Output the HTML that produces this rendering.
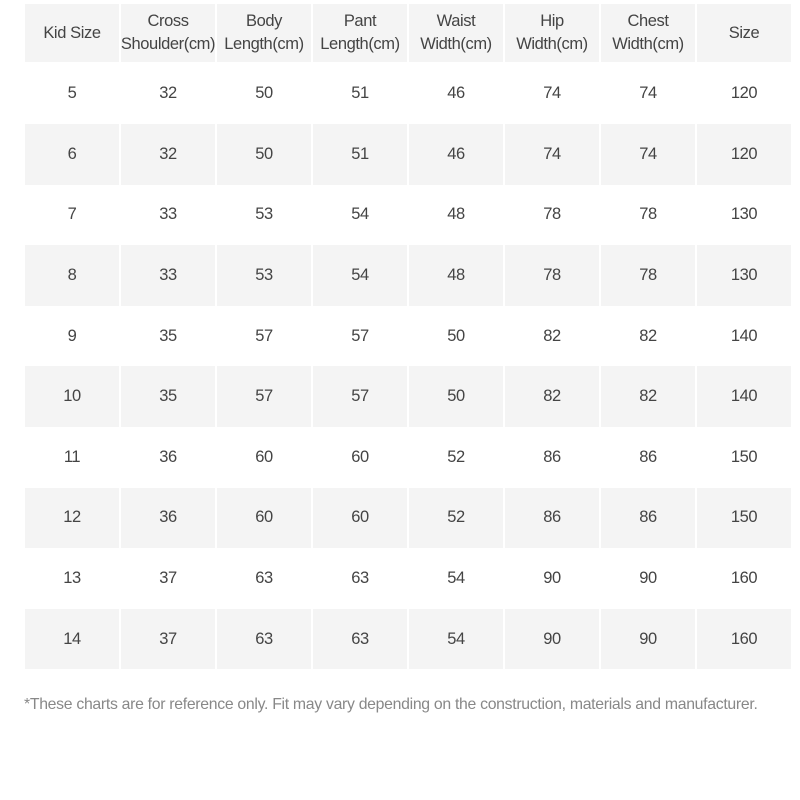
<!DOCTYPE html>
<html><head><style>
body{margin:0;width:800px;height:800px;background:#fff;font-family:"Liberation Sans",sans-serif;color:#444;overflow:hidden}
.t{position:absolute;left:25px;top:4px;}
.r{display:flex;height:60.6px}
.c{width:94px;margin-right:2px;display:flex;align-items:center;justify-content:center;text-align:center;font-size:16.5px;line-height:23px;letter-spacing:-0.4px}
.g .c{background:#f4f4f4}
.f{position:absolute;left:24px;top:696px;font-size:15.8px;color:#888;letter-spacing:-0.3px;white-space:nowrap}
</style></head><body>
<div class="t">
<div class="r g" style="height:58px"><div class="c" style="align-items:center">Kid Size</div><div class="c">Cross<br>Shoulder(cm)</div><div class="c">Body<br>Length(cm)</div><div class="c">Pant<br>Length(cm)</div><div class="c">Waist<br>Width(cm)</div><div class="c">Hip<br>Width(cm)</div><div class="c">Chest<br>Width(cm)</div><div class="c">Size</div></div>
<div class="r" style="height:62px"><div class="c">5</div><div class="c">32</div><div class="c">50</div><div class="c">51</div><div class="c">46</div><div class="c">74</div><div class="c">74</div><div class="c">120</div></div>
<div class="r g"><div class="c">6</div><div class="c">32</div><div class="c">50</div><div class="c">51</div><div class="c">46</div><div class="c">74</div><div class="c">74</div><div class="c">120</div></div>
<div class="r"><div class="c">7</div><div class="c">33</div><div class="c">53</div><div class="c">54</div><div class="c">48</div><div class="c">78</div><div class="c">78</div><div class="c">130</div></div>
<div class="r g"><div class="c">8</div><div class="c">33</div><div class="c">53</div><div class="c">54</div><div class="c">48</div><div class="c">78</div><div class="c">78</div><div class="c">130</div></div>
<div class="r"><div class="c">9</div><div class="c">35</div><div class="c">57</div><div class="c">57</div><div class="c">50</div><div class="c">82</div><div class="c">82</div><div class="c">140</div></div>
<div class="r g"><div class="c">10</div><div class="c">35</div><div class="c">57</div><div class="c">57</div><div class="c">50</div><div class="c">82</div><div class="c">82</div><div class="c">140</div></div>
<div class="r"><div class="c">11</div><div class="c">36</div><div class="c">60</div><div class="c">60</div><div class="c">52</div><div class="c">86</div><div class="c">86</div><div class="c">150</div></div>
<div class="r g"><div class="c">12</div><div class="c">36</div><div class="c">60</div><div class="c">60</div><div class="c">52</div><div class="c">86</div><div class="c">86</div><div class="c">150</div></div>
<div class="r"><div class="c">13</div><div class="c">37</div><div class="c">63</div><div class="c">63</div><div class="c">54</div><div class="c">90</div><div class="c">90</div><div class="c">160</div></div>
<div class="r g"><div class="c">14</div><div class="c">37</div><div class="c">63</div><div class="c">63</div><div class="c">54</div><div class="c">90</div><div class="c">90</div><div class="c">160</div></div>
</div>
<div class="f">*These charts are for reference only. Fit may vary depending on the construction, materials and manufacturer.</div>
</body></html>
